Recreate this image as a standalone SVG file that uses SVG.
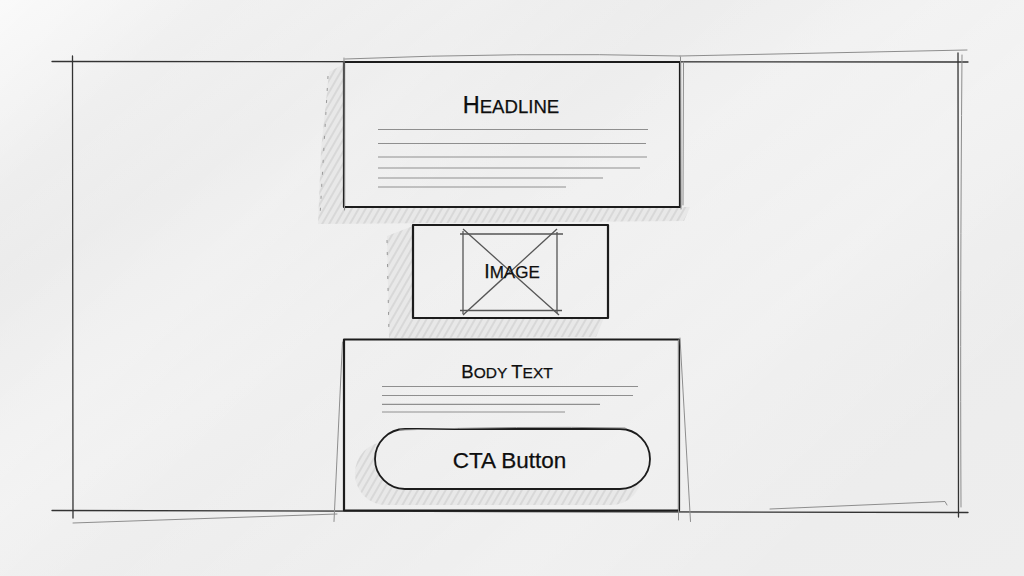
<svg xmlns="http://www.w3.org/2000/svg" width="1024" height="576" viewBox="0 0 1024 576">
  <defs>
    <linearGradient id="paper" x1="0" y1="0" x2="1" y2="1">
      <stop offset="0" stop-color="#f5f5f5"/>
      <stop offset="0.25" stop-color="#eaeaea"/>
      <stop offset="0.45" stop-color="#f0f0f0"/>
      <stop offset="0.7" stop-color="#eaeaea"/>
      <stop offset="1" stop-color="#ececec"/>
    </linearGradient>
    <linearGradient id="streak" x1="0" y1="0" x2="1" y2="0.6">
      <stop offset="0" stop-color="#ffffff" stop-opacity="0.5"/>
      <stop offset="0.15" stop-color="#ffffff" stop-opacity="0"/>
      <stop offset="0.35" stop-color="#ffffff" stop-opacity="0.25"/>
      <stop offset="0.5" stop-color="#ffffff" stop-opacity="0"/>
      <stop offset="0.8" stop-color="#ffffff" stop-opacity="0.3"/>
      <stop offset="1" stop-color="#ffffff" stop-opacity="0.1"/>
    </linearGradient>
    <pattern id="hatch" width="6" height="6" patternUnits="userSpaceOnUse" patternTransform="rotate(30)">
      <rect width="6" height="6" fill="#e8e8e8"/>
      <line x1="1" y1="0" x2="1" y2="6" stroke="#c0c0c0" stroke-width="0.8"/>
    </pattern>
    <mask id="btnMask">
      <rect x="340" y="420" width="330" height="100" fill="#fff"/>
      <rect x="375" y="429" width="275" height="60" rx="30" fill="#000"/>
    </mask>
    <style>
      .frame { fill: none; stroke: #333; stroke-width: 1.3; stroke-linecap: round; }
      .faint { fill: none; stroke: #8d8d8d; stroke-width: 1; stroke-linecap: round; }
      .box { fill: none; stroke: #1c1c1c; stroke-width: 2.2; stroke-linejoin: round; }
      .tl { stroke: #8f8f8f; stroke-width: 1.2; }
      .img { fill: none; stroke: #555; stroke-width: 1.3; }
      .shadow { fill: url(#hatch); }
      .dash { fill: none; stroke: #9a9a9a; stroke-width: 1; stroke-dasharray: 3 9; }
      .lbl { font-family: "Liberation Sans", Arial, sans-serif; fill: #0e0e0e; text-anchor: middle; stroke: #0e0e0e; stroke-width: 0.25; }
    </style>
  </defs>

  <rect width="1024" height="576" fill="url(#paper)"/>
  <rect width="1024" height="576" fill="url(#streak)"/>

  <!-- outer frame -->
  <g id="frame">
    <path class="frame" d="M 52 61.5 L 968 62"/>
    <path class="frame" d="M 72.5 56 L 73 518"/>
    <path class="frame" d="M 958 53 L 958.5 517"/>
    <path class="frame" d="M 52 510.5 L 968 512.5"/>
    <path class="faint" d="M 680 56 L 967 50"/>
    <path class="faint" d="M 962 55 Q 960 300 961 507"/>
    <path class="faint" d="M 73 523 L 337 514"/>
    <path class="faint" d="M 770 509 L 945 501.5 L 947 505"/>
    <path class="faint" d="M 345 59 Q 520 52 680 56"/>
  </g>

  <!-- shadows -->
  <g id="shadows">
    <polygon class="shadow" points="329,72 344,64 344,207 690,207 684,221 318,224 321,150"/>
    <path class="dash" d="M 328 76 L 320 216"/>
    <polygon class="shadow" points="387,236 413,226 413,318 604,318 596,337 389,338"/>
    <path class="dash" d="M 387 240 L 389 335"/>
    <rect class="shadow" x="355" y="442" width="287" height="63" rx="31" mask="url(#btnMask)"/>
  </g>

  <!-- headline node -->
  <g id="headline">
    <rect class="box" x="344" y="62" width="336" height="145"/>
    <path class="faint" d="M 680.5 57 L 681 209 M 683.5 62 L 683 205 M 344 58 L 344.5 210"/>
    <text class="lbl" x="511" y="113"><tspan font-size="23.5">H</tspan><tspan font-size="18.6">EADLINE</tspan></text>
    <line class="tl" x1="378" y1="129.5" x2="648" y2="129.5"/>
    <line class="tl" x1="378" y1="143.5" x2="646" y2="143.5"/>
    <line class="tl" x1="378" y1="157" x2="647" y2="157"/>
    <line class="tl" x1="378" y1="168" x2="640" y2="168"/>
    <line class="tl" x1="378" y1="178" x2="603" y2="178"/>
    <line class="tl" x1="378" y1="187" x2="566" y2="187"/>
  </g>

  <!-- image node -->
  <g id="image">
    <rect class="box" x="413" y="225" width="195" height="93"/>
    <line class="img" x1="460" y1="234" x2="563" y2="234"/>
    <line class="img" x1="460" y1="310.5" x2="562" y2="310.5"/>
    <line class="img" x1="463" y1="231" x2="463" y2="314"/>
    <line class="img" x1="557" y1="232" x2="557" y2="313"/>
    <line class="img" x1="463" y1="229" x2="559" y2="315"/>
    <line class="img" x1="557" y1="229" x2="463" y2="315"/>
    <text class="lbl" x="512" y="278"><tspan font-size="19.5">I</tspan><tspan font-size="17">MAGE</tspan></text>
  </g>

  <!-- body node -->
  <g id="body">
    <rect class="box" x="344" y="339.5" width="335" height="171"/>
    <path class="faint" d="M 342.5 342 L 334 521.5 M 680 338 L 690.5 521.5 M 678.5 340 L 678.5 520"/>
    <text class="lbl" x="507" y="377.5"><tspan font-size="18.5">B</tspan><tspan font-size="15.5">ODY </tspan><tspan font-size="18.5">T</tspan><tspan font-size="15.5">EXT</tspan></text>
    <line class="tl" x1="382" y1="386.5" x2="638" y2="386.5"/>
    <line class="tl" x1="382" y1="395.5" x2="633" y2="395.5"/>
    <line class="tl" x1="382" y1="404.3" x2="600" y2="404.3"/>
    <line class="tl" x1="382" y1="412" x2="565" y2="412"/>
  </g>

  <!-- CTA button node -->
  <g id="cta">
    <rect x="375" y="429" width="275" height="60" rx="30" fill="none" stroke="#1c1c1c" stroke-width="1.8"/>
    <path class="faint" d="M 400 430 Q 520 426 625 428"/>
    <text class="lbl" x="509.5" y="467.5" font-size="22.5">CTA Button</text>
  </g>

  <g id="connectors"/>
</svg>
